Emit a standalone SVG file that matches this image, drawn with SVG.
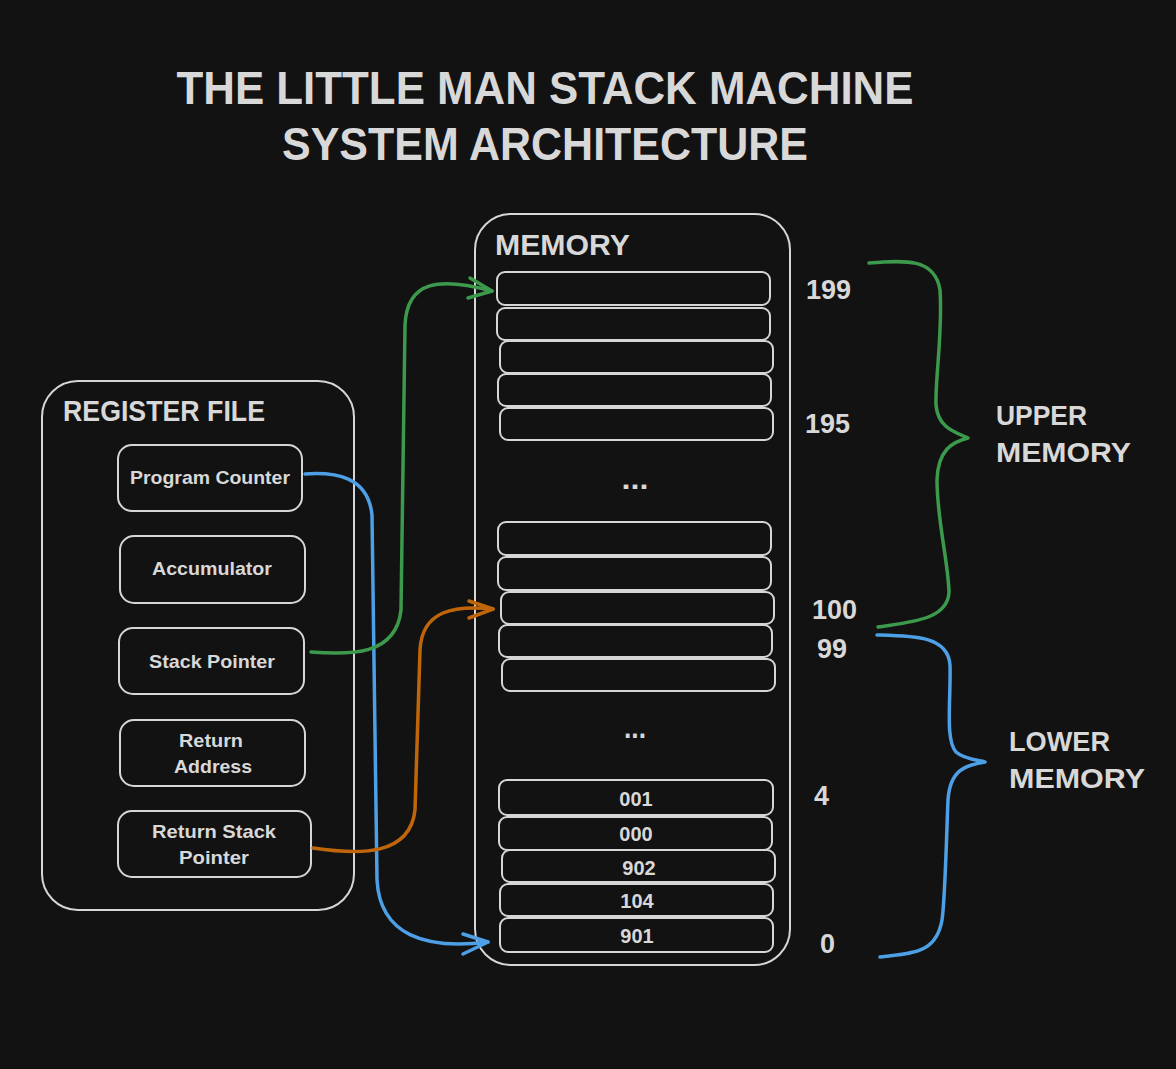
<svg xmlns="http://www.w3.org/2000/svg" width="1176" height="1069" viewBox="0 0 1176 1069">
<style>
.bg{fill:#121212}
.box{fill:#121212;stroke:#d6d6d6;stroke-width:2}
.t{font-family:"Liberation Sans",Arial,sans-serif;font-weight:bold;fill:#d8d8d8}
.title{font-size:47px}
.hdr{font-size:30px}
.lbl{font-size:19px;text-anchor:middle}
.num{font-size:27px}
.cell{font-size:20px;text-anchor:middle}
.dots{font-size:30px;text-anchor:middle}
.side{font-size:28px}
.conn{fill:none;stroke-width:3.5;stroke-linecap:round;stroke-linejoin:round}
</style>
<rect class="bg" x="0" y="0" width="1176" height="1069"/>

<g id="title">
<text class="t title" x="545" y="104" text-anchor="middle" textLength="737" lengthAdjust="spacingAndGlyphs">THE LITTLE MAN STACK MACHINE</text>
<text class="t title" x="545" y="160" text-anchor="middle" textLength="526" lengthAdjust="spacingAndGlyphs">SYSTEM ARCHITECTURE</text>
</g>

<g id="register-file">
<rect class="box" x="42" y="381" width="312" height="529" rx="36"/>
<text class="t hdr" x="63" y="421" textLength="202" lengthAdjust="spacingAndGlyphs">REGISTER FILE</text>
</g>
<g id="program-counter">
<rect class="box" x="118" y="445" width="184" height="66" rx="14"/>
<text class="t lbl" x="210" y="484" textLength="160" lengthAdjust="spacingAndGlyphs">Program Counter</text>
</g>
<g id="accumulator">
<rect class="box" x="120" y="536" width="185" height="67" rx="14"/>
<text class="t lbl" x="212" y="575" textLength="120" lengthAdjust="spacingAndGlyphs">Accumulator</text>
</g>
<g id="stack-pointer">
<rect class="box" x="119" y="628" width="185" height="66" rx="14"/>
<text class="t lbl" x="212" y="668" textLength="126" lengthAdjust="spacingAndGlyphs">Stack Pointer</text>
</g>
<g id="return-address">
<rect class="box" x="120" y="720" width="185" height="66" rx="14"/>
<text class="t lbl" x="211" y="747" textLength="64" lengthAdjust="spacingAndGlyphs">Return</text>
<text class="t lbl" x="213" y="773" textLength="78" lengthAdjust="spacingAndGlyphs">Address</text>
</g>
<g id="return-stack-pointer">
<rect class="box" x="118" y="811" width="193" height="66" rx="14"/>
<text class="t lbl" x="214" y="838" textLength="124" lengthAdjust="spacingAndGlyphs">Return  Stack</text>
<text class="t lbl" x="214" y="864" textLength="70" lengthAdjust="spacingAndGlyphs">Pointer</text>
</g>

<g id="memory">
<rect class="box" x="475" y="214" width="315" height="751" rx="36"/>
<text class="t hdr" x="495" y="255" textLength="135" lengthAdjust="spacingAndGlyphs">MEMORY</text>
</g>
<g id="memory-upper-cells">
<rect class="box" x="497" y="272" width="273" height="33" rx="8"/>
<rect class="box" x="497" y="308" width="273" height="32" rx="8"/>
<rect class="box" x="500" y="341" width="273" height="32" rx="8"/>
<rect class="box" x="498" y="374" width="273" height="32" rx="8"/>
<rect class="box" x="500" y="408" width="273" height="32" rx="8"/>
<text class="t dots" x="635" y="489" textLength="27" lengthAdjust="spacingAndGlyphs">...</text>
</g>
<g id="memory-middle-cells">
<rect class="box" x="498" y="522" width="273" height="33" rx="8"/>
<rect class="box" x="498" y="557" width="273" height="33" rx="8"/>
<rect class="box" x="501" y="592" width="273" height="32" rx="8"/>
<rect class="box" x="499" y="625" width="273" height="32" rx="8"/>
<rect class="box" x="502" y="659" width="273" height="32" rx="8"/>
<text class="t dots" x="635" y="738" textLength="22" lengthAdjust="spacingAndGlyphs">...</text>
</g>
<g id="memory-lower-cells">
<rect class="box" x="499" y="780" width="274" height="35" rx="8"/>
<text class="t cell" x="636" y="806">001</text>
<rect class="box" x="499" y="817" width="273" height="33" rx="8"/>
<text class="t cell" x="636" y="841">000</text>
<rect class="box" x="502" y="850" width="273" height="32" rx="8"/>
<text class="t cell" x="639" y="875">902</text>
<rect class="box" x="500" y="884" width="273" height="32" rx="8"/>
<text class="t cell" x="637" y="908">104</text>
<rect class="box" x="500" y="918" width="273" height="34" rx="8"/>
<text class="t cell" x="637" y="943">901</text>
</g>

<g id="address-labels">
<text class="t num" x="806" y="299">199</text>
<text class="t num" x="805" y="433">195</text>
<text class="t num" x="812" y="619">100</text>
<text class="t num" x="817" y="658">99</text>
<text class="t num" x="814" y="805">4</text>
<text class="t num" x="820" y="953">0</text>
</g>

<g id="upper-memory-brace">
<path class="conn" stroke="#3c9a4c" d="M869,263 C905,260 935,258 940,290 C943,330 935,380 936,405 C938,428 955,432 968,438 C952,442 938,450 937,480 C937,520 948,560 949,592 C948,620 910,622 878,627"/>
<text class="t side" x="996" y="425" textLength="91" lengthAdjust="spacingAndGlyphs">UPPER</text>
<text class="t side" x="996" y="462" textLength="135" lengthAdjust="spacingAndGlyphs">MEMORY</text>
</g>
<g id="lower-memory-brace">
<path class="conn" stroke="#4d9fe6" d="M877,635 C915,636 948,636 950,665 C951,700 945,740 956,752 C965,760 980,760 985,762 C965,765 950,770 948,800 C946,850 945,900 942,920 C936,955 910,953 880,957"/>
<text class="t side" x="1009" y="751" textLength="101" lengthAdjust="spacingAndGlyphs">LOWER</text>
<text class="t side" x="1009" y="788" textLength="136" lengthAdjust="spacingAndGlyphs">MEMORY</text>
</g>

<g id="connectors">
<path class="conn" stroke="#4d9fe6" d="M305,474 C335,472 368,476 372,515 L377,880 C380,935 425,950 488,942"/>
<path class="conn" stroke="#4d9fe6" d="M463,934 L488,942 L463,954"/>
<path class="conn" stroke="#3c9a4c" d="M311,652 C350,655 396,656 401,610 L405,325 C407,280 440,277 492,291"/>
<path class="conn" stroke="#3c9a4c" d="M470,278 L492,291 L468,298"/>
<path class="conn" stroke="#c0660a" d="M313,848 C360,855 410,856 415,810 L420,650 C422,610 455,605 493,609"/>
<path class="conn" stroke="#c0660a" d="M469,601 L493,609 L469,618"/>
</g>
</svg>
